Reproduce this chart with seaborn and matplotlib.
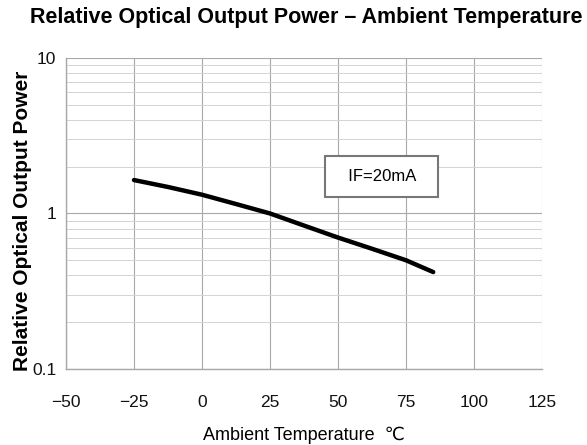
import matplotlib
matplotlib.use("Agg")
import matplotlib.pyplot as plt
import seaborn as sns
import pandas as pd
from matplotlib.ticker import FixedLocator, LogLocator, NullFormatter

# curve
temperature = [-25, -12.5, 0, 12.5, 25, 37.5, 50, 62.5, 75, 85]
rel_power = [1.64, 1.48, 1.32, 1.15, 1.00, 0.836, 0.70, 0.593, 0.50, 0.42]

x_ticks = [-50, -25, 0, 25, 50, 75, 100, 125]
y_ticks = [0.1, 1, 10]
y_tick_labels = ["0.1", "1", "10"]

df = pd.DataFrame({"temp": temperature, "power": rel_power})

sns.set_style("white")
plt.rcParams["font.family"] = ["Liberation Sans", "DejaVu Sans"]
plt.rcParams["text.color"] = "black"
plt.rcParams["axes.labelcolor"] = "black"
plt.rcParams["xtick.labelcolor"] = "#111111"
plt.rcParams["ytick.labelcolor"] = "#111111"

fig = plt.figure(figsize=(5.87, 4.45), dpi=100)
ax = fig.add_axes([0.1124, 0.1708, 0.811, 0.699])

sns.lineplot(data=df, x="temp", y="power", color="black", linewidth=3.2, ax=ax)

ax.set_yscale("log")
ax.set_xlim(-50, 125)
ax.set_ylim(0.1, 10)

ax.xaxis.set_major_locator(FixedLocator(x_ticks))
ax.set_xticklabels([str(t).replace("-", "\u2212") for t in x_ticks], fontsize=12.5)
ax.yaxis.set_major_locator(FixedLocator(y_ticks))
ax.set_yticklabels(y_tick_labels, fontsize=12.5)
ax.yaxis.set_minor_locator(LogLocator(base=10, subs=range(2, 10)))
ax.yaxis.set_minor_formatter(NullFormatter())

ax.grid(True, which="major", color="#a8a8a8", linewidth=0.8)
ax.grid(True, which="minor", axis="y", color="#d4d4d4", linewidth=0.7)
ax.tick_params(axis="both", which="major", length=5, color="#a8a8a8")
ax.tick_params(axis="x", which="major", pad=14)
ax.tick_params(axis="y", which="major", pad=2)
ax.tick_params(axis="y", which="minor", length=0)

for side in ["top", "right"]:
    ax.spines[side].set_visible(False)
for side in ["left", "bottom"]:
    ax.spines[side].set_color("#a8a8a8")
    ax.spines[side].set_linewidth(1.0)

ax.set_xlabel("Ambient Temperature  \u2103", fontsize=13, labelpad=12)
ax.set_ylabel("Relative Optical Output Power", fontsize=15, fontweight="bold")
ax.yaxis.set_label_coords(-0.072, 0.475)

ax.text(66, 1.73, "  IF=20mA  ", fontsize=12, ha="center", va="center",
        bbox=dict(boxstyle="square,pad=0.8", facecolor="white", edgecolor="#777777", linewidth=1.5))

fig.suptitle("Relative Optical Output Power \u2013 Ambient Temperature",
             fontsize=15.5, fontweight="bold", x=0.522, y=0.985)

fig.savefig("out.png", dpi=100)
